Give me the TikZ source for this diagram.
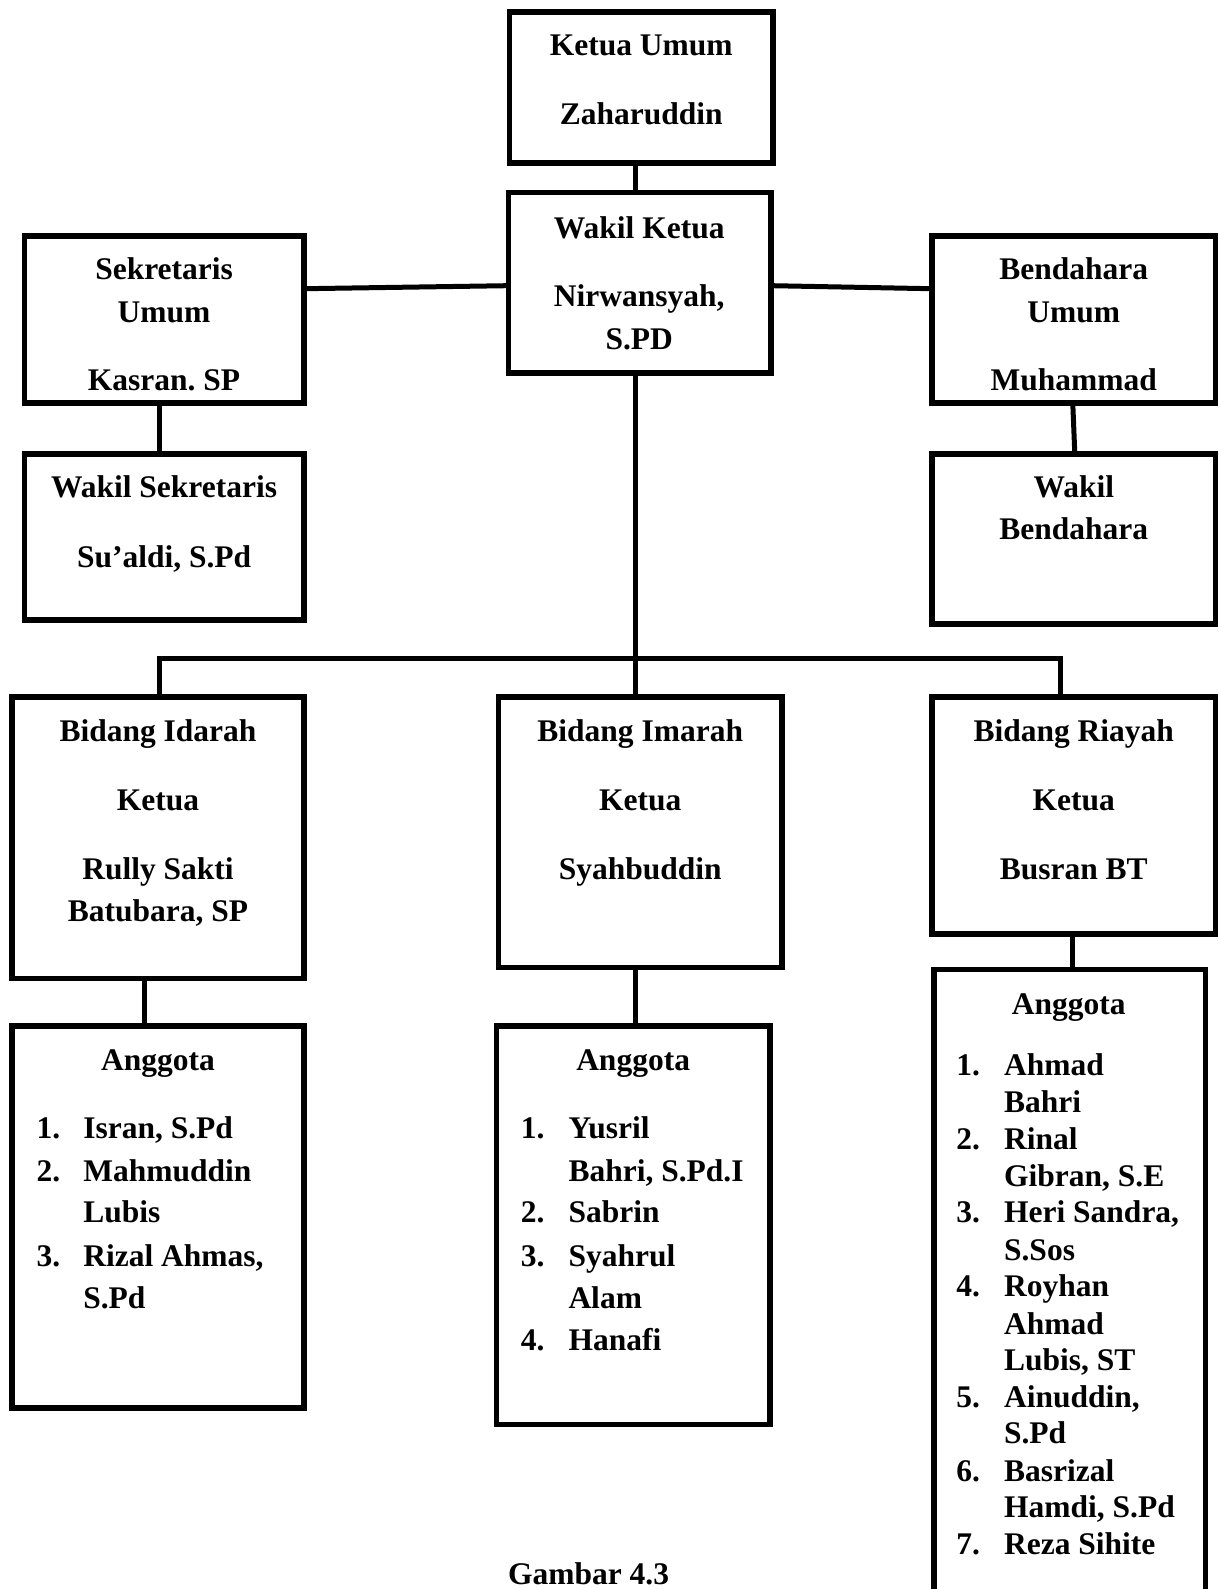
\documentclass[tikz,border=0pt]{standalone}
\usepackage{fontspec}
\setmainfont{Liberation Serif}
\usetikzlibrary{fit}
\frenchspacing
\begin{document}
\begin{tikzpicture}[x=1.013pt,y=-1.013pt,
  box/.style={draw=black, line width=5.5pt, inner sep=0pt, outer sep=0pt, rectangle},
  conn/.style={draw=black, line width=5pt, line join=miter},
  txt/.style={anchor=base, inner sep=0pt, yshift=-1pt, font=\frenchspacing\bfseries\fontsize{31.5}{36}\selectfont},
  ltxt/.style={txt, anchor=base west}]
\useasboundingbox (0,0) rectangle (1205.3,1568.6);
\clip (0,0) rectangle (1205.3,1568.6);
\fill[white] (0,0) rectangle (1205.3,1568.6);

% boxes
\node[box, fit={(503,12) (763,161)}] (ku) {};
\node[box, fit={(502,190) (761,368)}] (wk) {};
\node[box, fit={(24,233) (300,398)}] (sek) {};
\node[box, fit={(920,233) (1200,398)}] (ben) {};
\node[box, fit={(24,448) (300,612)}] (wsek) {};
\node[box, fit={(920,448) (1200,616)}] (wben) {};
\node[box, fit={(12,688) (300,966)}] (ida) {};
\node[box, fit={(492,688) (772,955)}] (ima) {};
\node[box, fit={(920,688) (1200,922)}] (ria) {};
\node[box, fit={(12,1013) (300,1390)}] (agl) {};
\node[box, fit={(490,1013) (760,1406)}] (agm) {};
\node[box, fit={(922,957) (1190,1650)}] (agr) {};

% helper coordinates
\coordinate (xa) at (627,650);
\coordinate (xl) at (157,650);
\coordinate (xr) at (1047,650);
\coordinate (ysl) at (0,285);
\coordinate (ysr) at (0,282);
\coordinate (xs) at (157,0);
\coordinate (xb1) at (1059,0);
\coordinate (xb2) at (1061,0);
\coordinate (xi) at (143,0);

% connectors
\draw[conn] (ku.south -| xa) -- (wk.north -| xa);
\draw[conn] (sek.east |- ysl) -- (wk.west |- ysr);
\draw[conn] (wk.east |- ysr) -- (ben.west |- ysl);
\draw[conn] (sek.south -| xs) -- (wsek.north -| xs);
\draw[conn] (ben.south -| xb1) -- (wben.north -| xb2);
\draw[conn] (wk.south -| xa) -- (xa);
\draw[conn] (xl |- ida.north) -- (xl) -- (xr) -- (xr |- ria.north);
\draw[conn] (xa) -- (ima.north -| xa);
\draw[conn] (ida.south -| xi) -- (agl.north -| xi);
\draw[conn] (ima.south -| xa) -- (agm.north -| xa);
\draw[conn] (ria.south -| xb1) -- (agr.north -| xb1);

% texts
\node[txt] (t1) at (633,54) {Ketua Umum};
\node[txt] (t2) at (633,122) {Zaharuddin};
\node[txt] (t3) at (631,234) {Wakil Ketua};
\node[txt] (t4) at (631,302) {Nirwansyah,};
\node[txt] (t5) at (631,344) {S.PD};
\node[txt] (t6) at (162,275) {Sekretaris};
\node[txt] (t7) at (162,317) {Umum};
\node[txt] (t8) at (162,384) {Kasran. SP};
\node[txt] (t9) at (1060,275) {Bendahara};
\node[txt] (t10) at (1060,317) {Umum};
\node[txt] (t11) at (1060,384) {Muhammad};
\node[txt] (t12) at (162,490) {Wakil Sekretaris};
\node[txt] (t13) at (162,559) {Su’aldi, S.Pd};
\node[txt] (t14) at (1060,490) {Wakil};
\node[txt] (t15) at (1060,532) {Bendahara};
\node[txt] (t16) at (156,731) {Bidang Idarah};
\node[txt] (t17) at (156,799) {Ketua};
\node[txt] (t18) at (156,867) {Rully Sakti};
\node[txt] (t19) at (156,909) {Batubara, SP};
\node[txt] (t20) at (632,731) {Bidang Imarah};
\node[txt] (t21) at (632,799) {Ketua};
\node[txt] (t22) at (632,867) {Syahbuddin};
\node[txt] (t23) at (1060,731) {Bidang Riayah};
\node[txt] (t24) at (1060,799) {Ketua};
\node[txt] (t25) at (1060,867) {Busran BT};

% left members
\node[txt] (l0) at (156,1056) {Anggota};
\node[ltxt] (ln1) at (36,1123) {1.};
\node[ltxt] (ln2) at (36,1165) {2.};
\node[ltxt] (ln3) at (36,1249) {3.};
\node[ltxt] (l1) at (82,1123) {Isran, S.Pd};
\node[ltxt] (l2) at (82,1165) {Mahmuddin};
\node[ltxt] (l3) at (82,1206) {Lubis};
\node[ltxt] (l4) at (82,1249) {Rizal Ahmas,};
\node[ltxt] (l5) at (82,1291) {S.Pd};

% middle members
\node[txt] (m0) at (625,1056) {Anggota};
\node[ltxt] (mn1) at (514,1123) {1.};
\node[ltxt] (mn2) at (514,1206) {2.};
\node[ltxt] (mn3) at (514,1249) {3.};
\node[ltxt] (mn4) at (514,1332) {4.};
\node[ltxt] (m1) at (561,1123) {Yusril};
\node[ltxt] (m2) at (561,1165) {Bahri, S.Pd.I};
\node[ltxt] (m3) at (561,1206) {Sabrin};
\node[ltxt] (m4) at (561,1249) {Syahrul};
\node[ltxt] (m5) at (561,1291) {Alam};
\node[ltxt] (m6) at (561,1332) {Hanafi};

% right members
\node[txt] (r0) at (1055,1000) {Anggota};
\node[ltxt] (rn1) at (944,1061) {1.};
\node[ltxt] (rn2) at (944,1134) {2.};
\node[ltxt] (rn3) at (944,1206) {3.};
\node[ltxt] (rn4) at (944,1279) {4.};
\node[ltxt] (rn5) at (944,1388) {5.};
\node[ltxt] (rn6) at (944,1461) {6.};
\node[ltxt] (rn7) at (944,1534) {7.};
\node[ltxt] (r1) at (991,1061) {Ahmad};
\node[ltxt] (r2) at (991,1097) {Bahri};
\node[ltxt] (r3) at (991,1134) {Rinal};
\node[ltxt] (r4) at (991,1170) {Gibran, S.E};
\node[ltxt] (r5) at (991,1206) {Heri Sandra,};
\node[ltxt] (r6) at (991,1243) {S.Sos};
\node[ltxt] (r7) at (991,1279) {Royhan};
\node[ltxt] (r8) at (991,1316) {Ahmad};
\node[ltxt] (r9) at (991,1352) {Lubis, ST};
\node[ltxt] (r10) at (991,1388) {Ainuddin,};
\node[ltxt] (r11) at (991,1424) {S.Pd};
\node[ltxt] (r12) at (991,1461) {Basrizal};
\node[ltxt] (r13) at (991,1497) {Hamdi, S.Pd};
\node[ltxt] (r14) at (991,1534) {Reza Sihite};

% caption
\node[txt] (cap) at (581,1563) {Gambar 4.3};
\end{tikzpicture}
\end{document}
